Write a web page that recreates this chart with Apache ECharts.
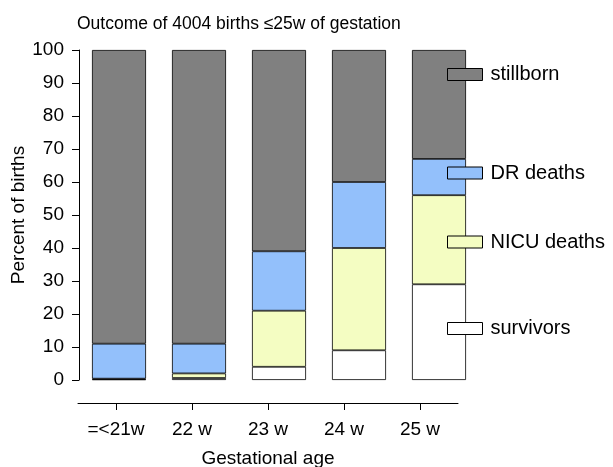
<!DOCTYPE html>
<html>
<head>
<meta charset="utf-8">
<script src="https://cdn.jsdelivr.net/npm/echarts@6/dist/echarts.min.js"></script>
<style>html,body{margin:0;padding:0;background:#fff}#c{width:613px;height:467px}</style>
</head>
<body>
<div id="c"></div>
<script>
const categories = ['=<21w', '22 w', '23 w', '24 w', '25 w'];
const survivors = [0.2, 0.6, 4, 9, 29];
const nicuDeaths = [0.2, 1.4, 17, 31, 27];
const drDeaths = [10.6, 9, 18, 20, 11];
const stillborn = [89, 89, 61, 40, 33];
const seriesNames = ['stillborn', 'DR deaths', 'NICU deaths', 'survivors'];
const yMin = 0, yMax = 100, yStep = 10;

const FONT = 'Liberation Sans, Arial, Helvetica, sans-serif';
const colors = { 'survivors': '#ffffff', 'NICU deaths': '#f4fdc2', 'DR deaths': '#93c0fb', 'stillborn': '#808080' };
const legendCenters = { 'stillborn': 74.5, 'DR deaths': 173, 'NICU deaths': 242, 'survivors': 328.5 };

function bar(name, data) {
  return {
    name: name, type: 'bar', stack: 'all', data: data, barWidth: 54,
    xAxisIndex: 0, yAxisIndex: 0,
    itemStyle: { color: colors[name], borderColor: '#000', borderWidth: 0.8 },
    emphasis: { disabled: true }
  };
}

const chart = echarts.init(document.getElementById('c'), null, { renderer: 'canvas' });
chart.setOption({
  animation: false,
  textStyle: { fontFamily: FONT },
  title: {
    text: 'Outcome of 4004 births \u226425w of gestation',
    left: 77, top: 15, padding: 0,
    textStyle: { fontFamily: FONT, fontSize: 17.5, fontWeight: 'normal', color: '#000' }
  },
  legend: seriesNames.map(n => ({
    data: [n], left: 447, top: legendCenters[n] - 10, padding: 0,
    orient: 'vertical', selectedMode: false,
    icon: 'rect', itemWidth: 35, itemHeight: 12,
    itemStyle: { borderColor: '#000', borderWidth: 1 },
    textStyle: { fontFamily: FONT, fontSize: 20, color: '#000', lineHeight: 20, padding: [0, 0, 0, 3] }
  })),
  grid: [
    { left: 79, top: 50, width: 400, height: 330, outerBoundsMode: 'none', containLabel: false },
    { left: 78, top: 50, width: 380, height: 353, outerBoundsMode: 'none', containLabel: false }
  ],
  xAxis: [
    { type: 'category', data: categories, gridIndex: 0, show: false },
    {
      type: 'category', data: categories, gridIndex: 1, position: 'bottom',
      axisLine: { show: true, lineStyle: { color: '#000', width: 1 } },
      axisTick: { show: true, alignWithLabel: true, interval: 0, length: 7, lineStyle: { color: '#000', width: 1 } },
      axisLabel: { fontFamily: FONT, fontSize: 19, color: '#000', margin: 17, interval: 0 },
      name: 'Gestational age', nameLocation: 'middle', nameGap: 46,
      nameTextStyle: { fontFamily: FONT, fontSize: 19, color: '#000' }
    }
  ],
  yAxis: [
    {
      type: 'value', gridIndex: 0, min: yMin, max: yMax, interval: yStep,
      axisLine: { show: true, lineStyle: { color: '#000', width: 1 } },
      axisTick: { show: true, length: 7, lineStyle: { color: '#000' } },
      splitLine: { show: false },
      axisLabel: { fontFamily: FONT, fontSize: 19, color: '#000', margin: 15 },
      name: 'Percent of births', nameLocation: 'middle', nameGap: 51, nameMoveOverlap: false,
      nameTextStyle: { fontFamily: FONT, fontSize: 19, color: '#000' }
    },
    { type: 'value', gridIndex: 1, show: false, min: yMin, max: yMax }
  ],
  series: [
    bar('survivors', survivors),
    bar('NICU deaths', nicuDeaths),
    bar('DR deaths', drDeaths),
    bar('stillborn', stillborn),
    {
      type: 'bar', xAxisIndex: 1, yAxisIndex: 1, data: survivors, silent: true,
      itemStyle: { opacity: 0 }, barWidth: 1
    }
  ]
});
</script>
</body>
</html>
